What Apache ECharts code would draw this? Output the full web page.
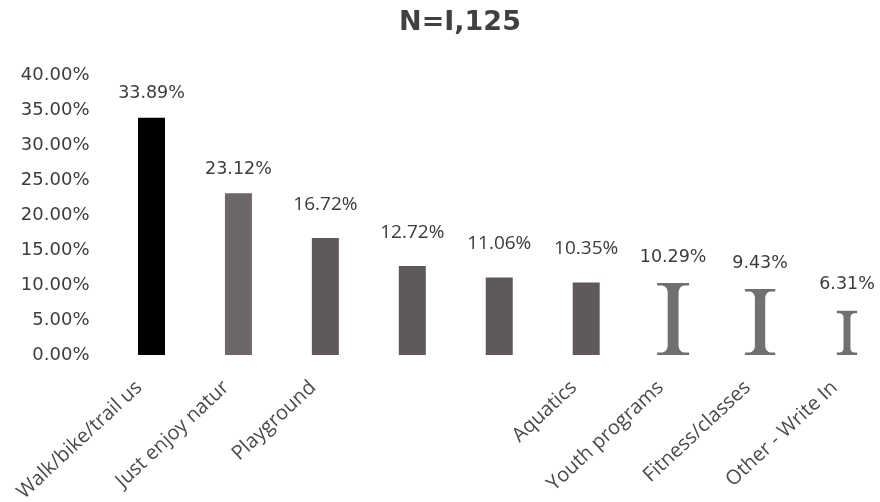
<!DOCTYPE html>
<html>
<head>
<meta charset="utf-8">
<script src="https://cdn.jsdelivr.net/npm/echarts@6/dist/echarts.min.js"></script>
<style>
  html, body { margin: 0; padding: 0; background: #fff; }
  #chart { width: 880px; height: 502px; }
</style>
</head>
<body>
<div id="chart"></div>
<script>
// Share of respondents by activity (N = 1,125)
const categories = ['Walk/bike/trail use', 'Just enjoy nature', 'Playgrounds', '', '', 'Aquatics',
                    'Youth programs', 'Fitness/classes', 'Other - Write In'];
const tickLabels = ['Walk/bike/trail us', 'Just enjoy natur', 'Playground', '', '', 'Aquatics',
                    'Youth programs', 'Fitness/classes', 'Other - Write In'];
const barValues = [33.89, 23.12, 16.72, 12.72, 11.06, 10.35];   // drawn as solid bars
const glyphValues = [10.29, 9.43, 6.31];                         // drawn as serif "I" marks
const yTicks = [0, 5, 10, 15, 20, 25, 30, 35, 40];
const titleText = 'N=I,125';

// styling
const barColors = ['#000000', '#6d6768', '#5f595b', '#5f595b', '#5e585a', '#5f595b'];
const arialLabel = { fontFamily: 'DejaVu Sans', fontSize: 17.5, color: '#3c3c3c', distance: 15 };
const scanLabel = { fontFamily: 'Open Sans', fontSize: 19, color: '#3a3a3a', distance: 24 };
const glyphColor = '#707070';

const fmt = v => v.toFixed(2) + '%';

const barData = barValues.map((v, i) => ({
  value: v,
  itemStyle: { color: barColors[i] },
  label: Object.assign({ show: true, position: 'top', formatter: p => fmt(p.value) },
                       i < 2 ? arialLabel : scanLabel)
}));
while (barData.length < categories.length) barData.push('-');

const glyphStart = barValues.length;
const glyphData = glyphValues.map((v, i) => [glyphStart + i, v]);

// Serif capital "I" spanning from 0 up to the value
function renderGlyph(params, api) {
  const idx = api.value(0);
  const v = api.value(1);
  const top = api.coord([idx, v]);
  const base = api.coord([idx, 0]);
  const cx = top[0], yt = top[1], yb = base[1];
  const h = yb - yt;
  const hw = Math.min(16, h * 0.23);         // serif half width
  const sw = hw * 0.34;                      // stem half width
  const t = 2.5;                             // serif thickness
  const bw = Math.min(6, (hw - sw) * 0.55);  // bracket horizontal reach
  const b = Math.min(7, h * 0.1);            // bracket height
  const steps = 6;
  const pts = [];
  // top serif
  pts.push([cx - hw, yt], [cx + hw, yt], [cx + hw, yt + t], [cx + sw + bw, yt + t]);
  for (let k = 1; k <= steps; k++) {
    const a = k / steps * Math.PI / 2;
    pts.push([cx + sw + bw - bw * Math.sin(a), yt + t + b - b * Math.cos(a)]);
  }
  // right side down to bottom serif
  for (let k = 0; k < steps; k++) {
    const a = k / steps * Math.PI / 2;
    pts.push([cx + sw + bw * (1 - Math.cos(a)), yb - t - b + b * Math.sin(a)]);
  }
  pts.push([cx + sw + bw, yb - t], [cx + hw, yb - t], [cx + hw, yb], [cx - hw, yb], [cx - hw, yb - t],
           [cx - sw - bw, yb - t]);
  for (let k = 1; k <= steps; k++) {
    const a = k / steps * Math.PI / 2;
    pts.push([cx - sw - bw + bw * Math.sin(a), yb - t - b + b * Math.cos(a)]);
  }
  // left side up to top serif
  for (let k = 0; k < steps; k++) {
    const a = k / steps * Math.PI / 2;
    pts.push([cx - sw - bw * (1 - Math.cos(a)), yt + t + b - b * Math.sin(a)]);
  }
  pts.push([cx - sw - bw, yt + t], [cx - hw, yt + t]);
  return {
    type: 'group',
    children: [
      { type: 'polygon', shape: { points: pts }, style: { fill: glyphColor } },
      { type: 'text', style: {
          text: fmt(v), x: cx, y: yt - 26, align: 'center', verticalAlign: 'middle',
          fontFamily: 'DejaVu Sans', fontSize: 17.5, fill: '#3c3c3c' } }
    ]
  };
}

const chart = echarts.init(document.getElementById('chart'), null, { renderer: 'canvas' });
chart.setOption({
  animation: false,
  backgroundColor: '#ffffff',
  graphic: [{
    type: 'text', x: 460, y: 23,
    style: { text: titleText, align: 'center', verticalAlign: 'middle',
             fontFamily: 'DejaVu Sans', fontWeight: 'bold', fontSize: 27, fill: '#404040' }
  }],
  grid: { left: 151.5, right: 33, top: 75, bottom: 147, containLabel: false, outerBoundsMode: 'none' },
  xAxis: {
    type: 'category',
    data: categories,
    boundaryGap: false,
    axisLine: { show: false },
    axisTick: { show: false },
    splitLine: { show: false },
    axisLabel: {
      interval: 0,
      rotate: 43,
      margin: 18,
      padding: [0, 17, 0, 0],
      formatter: (val, i) => tickLabels[i],
      fontFamily: 'Open Sans',
      fontSize: 20,
      color: '#4a4a4a'
    }
  },
  yAxis: {
    type: 'value',
    min: yTicks[0],
    max: yTicks[yTicks.length - 1],
    interval: yTicks[1] - yTicks[0],
    axisLine: { show: false },
    axisTick: { show: false },
    splitLine: { show: false },
    axisLabel: {
      margin: 62,
      formatter: v => fmt(v),
      fontFamily: 'DejaVu Sans',
      fontSize: 18,
      color: '#3c3c3c'
    }
  },
  series: [
    {
      type: 'bar',
      data: barData,
      barWidth: 27
    },
    {
      type: 'custom',
      data: glyphData,
      encode: { x: 0, y: 1 },
      renderItem: renderGlyph
    }
  ]
});
</script>
</body>
</html>
